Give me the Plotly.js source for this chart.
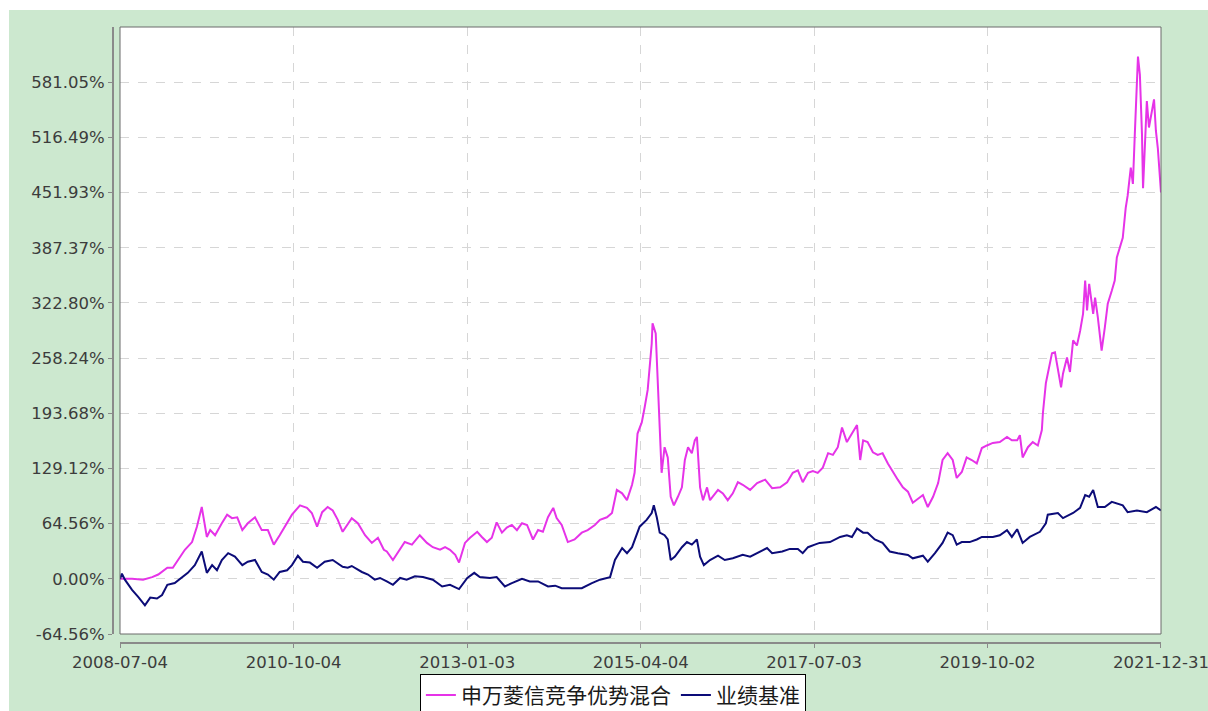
<!DOCTYPE html>
<html>
<head>
<meta charset="utf-8">
<script src="https://cdn.plot.ly/plotly-3.0.1.min.js"></script>
<style>
  html, body { margin:0; padding:0; background:#ffffff; overflow:hidden; }
  #chart { position:absolute; left:9px; top:10px; width:1199px; height:701px; }
</style>
</head>
<body>
<div id="chart"></div>
<script>
// ---- Data (cumulative return, %) ----
const seriesNames = ['申万菱信竞争优势混合', '业绩基准'];

const fundDates = ['2008-07-04','2008-08-30','2008-10-21','2008-12-03','2009-01-01','2009-02-13','2009-03-11','2009-04-04','2009-05-07','2009-06-10','2009-07-03','2009-07-26','2009-08-19','2009-09-04','2009-09-27','2009-10-29','2009-11-23','2009-12-16','2010-01-10','2010-02-03','2010-03-01','2010-04-04','2010-05-06','2010-06-04','2010-07-02','2010-07-30','2010-09-03','2010-09-26','2010-11-03','2010-12-06','2010-12-29','2011-01-23','2011-02-16','2011-03-14','2011-04-07','2011-05-01','2011-05-24','2011-07-06','2011-08-04','2011-09-07','2011-10-09','2011-11-07','2011-12-05','2011-12-19','2012-01-17','2012-02-11','2012-03-13','2012-04-16','2012-05-23','2012-06-26','2012-07-24','2012-08-27','2012-09-20','2012-10-13','2012-11-07','2012-11-25','2012-12-23','2013-01-16','2013-02-19','2013-03-13','2013-04-06','2013-04-29','2013-05-22','2013-06-16','2013-07-09','2013-08-02','2013-08-26','2013-09-19','2013-10-13','2013-11-10','2013-12-04','2013-12-27','2014-01-20','2014-02-14','2014-03-02','2014-03-26','2014-04-24','2014-05-26','2014-06-29','2014-07-27','2014-08-30','2014-09-23','2014-10-26','2014-11-19','2014-12-12','2015-01-06','2015-01-29','2015-02-22','2015-03-06','2015-03-20','2015-04-09','2015-04-23','2015-05-07','2015-05-26','2015-05-30','2015-06-14','2015-06-24','2015-07-03','2015-07-12','2015-07-26','2015-08-10','2015-08-24','2015-09-08','2015-09-27','2015-10-16','2015-10-30','2015-11-14','2015-12-02','2015-12-16','2015-12-26','2016-01-10','2016-01-24','2016-02-12','2016-02-26','2016-03-10','2016-04-04','2016-04-27','2016-05-20','2016-06-13','2016-07-07','2016-07-30','2016-09-03','2016-10-06','2016-11-13','2016-12-16','2017-01-23','2017-02-25','2017-03-24','2017-04-17','2017-05-10','2017-06-04','2017-06-27','2017-07-20','2017-08-13','2017-09-07','2017-09-30','2017-10-23','2017-11-12','2017-12-05','2017-12-29','2018-01-22','2018-02-06','2018-02-20','2018-03-13','2018-04-07','2018-04-30','2018-05-23','2018-06-17','2018-07-10','2018-08-03','2018-08-27','2018-09-20','2018-10-13','2018-11-07','2018-11-30','2018-12-23','2019-01-17','2019-02-10','2019-03-03','2019-03-27','2019-04-20','2019-05-09','2019-06-02','2019-06-25','2019-07-19','2019-08-12','2019-09-05','2019-09-29','2019-10-27','2019-11-29','2020-01-02','2020-01-25','2020-02-19','2020-03-03','2020-03-16','2020-04-10','2020-05-03','2020-05-27','2020-06-15','2020-06-20','2020-07-04','2020-07-13','2020-08-02','2020-08-16','2020-08-30','2020-09-14','2020-09-23','2020-10-12','2020-10-26','2020-11-10','2020-11-28','2020-12-13','2020-12-27','2021-01-06','2021-01-15','2021-01-25','2021-02-13','2021-02-22','2021-03-07','2021-03-25','2021-04-09','2021-04-23','2021-05-12','2021-05-26','2021-06-05','2021-06-19','2021-07-03','2021-07-17','2021-07-26','2021-08-10','2021-08-20','2021-08-29','2021-09-08','2021-09-13','2021-09-22','2021-10-02','2021-10-07','2021-10-16','2021-10-25','2021-11-04','2021-11-19','2021-11-28','2021-12-07','2021-12-16','2021-12-31'];
const fundValues = [0,0,-1,2,5,13,13,22,34,43,61,84,49,57,51,65,75,71,72,57,65,72,57,57,40,51,66,75,86,83,77,61,78,84,80,69,55,71,65,51,42,48,34,32,22,32,43,40,51,42,37,34,37,34,28,19,42,48,55,49,43,48,66,54,60,63,57,65,63,46,57,55,72,83,71,63,43,46,54,57,63,69,72,77,104,100,92,110,124,170,183,201,221,275,299,287,232,177,124,154,142,96,86,96,107,139,154,147,162,166,107,92,107,92,96,104,100,92,100,113,110,104,112,116,106,107,113,124,127,113,124,126,124,130,147,145,154,177,160,170,180,139,162,160,148,145,147,135,125,116,107,102,89,94,98,84,96,112,139,147,139,118,125,142,139,135,153,156,159,160,166,162,162,168,142,154,160,156,174,194,229,240,264,265,244,224,240,259,242,279,273,290,310,349,314,345,310,329,306,267,294,322,337,349,376,387,399,434,448,481,462,520,590,611,590,520,457,512,559,528,551,561,524,504,452];

const benchDates = ['2008-07-04','2008-07-13','2008-07-27','2008-08-30','2008-09-28','2008-10-30','2008-11-24','2008-12-26','2009-01-19','2009-02-13','2009-03-20','2009-04-23','2009-05-21','2009-06-23','2009-07-26','2009-08-19','2009-09-13','2009-10-06','2009-10-29','2009-11-28','2009-12-30','2010-02-03','2010-03-01','2010-04-04','2010-05-06','2010-06-04','2010-07-02','2010-07-30','2010-09-03','2010-09-26','2010-10-24','2010-11-17','2010-12-20','2011-01-23','2011-02-28','2011-04-07','2011-05-24','2011-06-17','2011-07-06','2011-08-23','2011-09-21','2011-10-23','2011-11-17','2011-12-19','2012-01-17','2012-02-20','2012-03-22','2012-04-30','2012-06-07','2012-07-24','2012-09-06','2012-10-13','2012-11-25','2013-01-03','2013-02-05','2013-03-03','2013-04-20','2013-05-22','2013-06-30','2013-08-02','2013-09-19','2013-10-26','2013-12-04','2014-01-20','2014-02-23','2014-03-26','2014-05-17','2014-06-29','2014-08-16','2014-09-23','2014-11-10','2014-12-03','2015-01-06','2015-01-29','2015-02-22','2015-03-30','2015-05-02','2015-05-26','2015-06-05','2015-06-19','2015-07-03','2015-07-26','2015-08-10','2015-08-24','2015-09-13','2015-10-16','2015-11-09','2015-12-02','2015-12-26','2016-01-10','2016-01-28','2016-02-26','2016-04-04','2016-05-06','2016-06-13','2016-07-30','2016-09-03','2016-10-06','2016-11-22','2016-12-16','2017-02-02','2017-03-10','2017-04-17','2017-05-10','2017-06-04','2017-07-06','2017-07-29','2017-09-16','2017-11-03','2017-12-05','2017-12-29','2018-01-22','2018-02-20','2018-03-13','2018-04-16','2018-05-23','2018-06-26','2018-08-03','2018-09-20','2018-10-13','2018-11-30','2018-12-23','2019-01-26','2019-03-03','2019-03-27','2019-04-20','2019-05-09','2019-06-02','2019-07-09','2019-08-12','2019-09-05','2019-10-27','2019-11-29','2020-01-02','2020-01-25','2020-02-19','2020-03-16','2020-04-19','2020-06-06','2020-07-04','2020-07-13','2020-08-30','2020-09-23','2020-11-10','2020-12-13','2021-01-06','2021-01-25','2021-02-13','2021-03-07','2021-04-09','2021-05-12','2021-07-03','2021-07-26','2021-09-08','2021-10-25','2021-12-07','2021-12-31'];
const benchValues = [0,6,-1,-13,-21,-31,-22,-23,-19,-7,-5,2,7,16,32,7,16,10,22,30,26,16,20,22,8,5,-1,8,10,16,27,20,19,13,20,22,14,13,15,8,5,-1,1,-3,-7,1,-1,3,2,-1,-9,-7,-12,1,7,2,1,2,-9,-5,0,-3,-3,-9,-8,-11,-11,-11,-5,-1,2,22,36,30,37,61,69,77,86,72,54,51,46,22,26,37,43,40,46,26,16,22,27,22,24,28,26,30,36,30,32,35,35,30,37,40,42,43,49,51,49,59,54,54,46,42,32,30,28,24,27,20,30,42,54,51,40,43,43,46,49,49,51,57,49,58,42,49,55,65,75,77,71,77,83,98,96,104,84,84,90,86,78,80,78,84,80];

const xTickLabels = ['2008-07-04','2010-10-04','2013-01-03','2015-04-04','2017-07-03','2019-10-02','2021-12-31'];
const yTickLabels = ['-64.56%','0.00%','64.56%','129.12%','193.68%','258.24%','322.80%','387.37%','451.93%','516.49%','581.05%'];

// ---- Chart ----
const yTickVals = yTickLabels.map(s => parseFloat(s));
const yStep = 64.5612;

const traces = [
  { x: fundDates, y: fundValues, name: seriesNames[0], type: 'scatter', mode: 'lines',
    line: { color: '#e633e8', width: 2 } },
  { x: benchDates, y: benchValues, name: seriesNames[1], type: 'scatter', mode: 'lines',
    line: { color: '#0c0c78', width: 2 } }
];

const tickFont = { family: 'DejaVu Sans', size: 16.5, color: '#3c3c3c' };
const xDom = [0.00668, 1];
const yDom = [0.01461, 1];

const layout = {
  width: 1199, height: 701,
  paper_bgcolor: '#cce8cf',
  plot_bgcolor: '#ffffff',
  margin: { l: 104, r: 47, t: 17, b: 68, autoexpand: false },
  showlegend: true,
  legend: {
    orientation: 'h', x: 0.477, xanchor: 'center', y: -0.050, yanchor: 'top',
    bgcolor: '#ffffff', bordercolor: '#000000', borderwidth: 1,
    font: { family: 'Noto Sans CJK SC', size: 21, color: '#1a1a1a' },
    traceorder: 'normal', valign: 'top'
  },
  xaxis: {
    type: 'date', domain: xDom, anchor: 'free', position: 0,
    tickmode: 'array', tickvals: xTickLabels, ticktext: xTickLabels,
    ticklabeloverflow: 'allow',
    showgrid: true, gridcolor: '#d6d6d6', griddash: 'dash', gridwidth: 1,
    showline: true, linecolor: '#8a8a8a', linewidth: 2,
    ticks: 'outside', ticklen: 4, tickcolor: '#8a8a8a', tickwidth: 1,
    tickfont: tickFont, zeroline: false, fixedrange: true
  },
  yaxis: {
    domain: yDom, anchor: 'free', position: 0,
    range: [-yStep, yStep * 10],
    tickmode: 'array', tickvals: yTickVals, ticktext: yTickLabels,
    showgrid: true, gridcolor: '#d6d6d6', griddash: 'dash', gridwidth: 1,
    showline: true, linecolor: '#8a8a8a', linewidth: 2,
    ticks: 'outside', ticklen: 4, tickcolor: '#8a8a8a', tickwidth: 1,
    tickfont: tickFont, zeroline: false, fixedrange: true
  },
  shapes: [
    { type: 'rect', xref: 'paper', yref: 'paper', x0: xDom[0], x1: xDom[1], y0: yDom[0], y1: yDom[1],
      line: { color: '#6b6b6b', width: 1 }, layer: 'above' }
  ]
};

// widen the date range by a hair so the end ticks are kept
const t0 = new Date(xTickLabels[0] + 'T00:00:00Z').getTime();
const t1 = new Date(xTickLabels[xTickLabels.length - 1] + 'T00:00:00Z').getTime();
layout.xaxis.range = [t0 - 3600e3, t1 + 3600e3];

Plotly.newPlot('chart', traces, layout, { displayModeBar: false, staticPlot: true });
</script>
</body>
</html>
